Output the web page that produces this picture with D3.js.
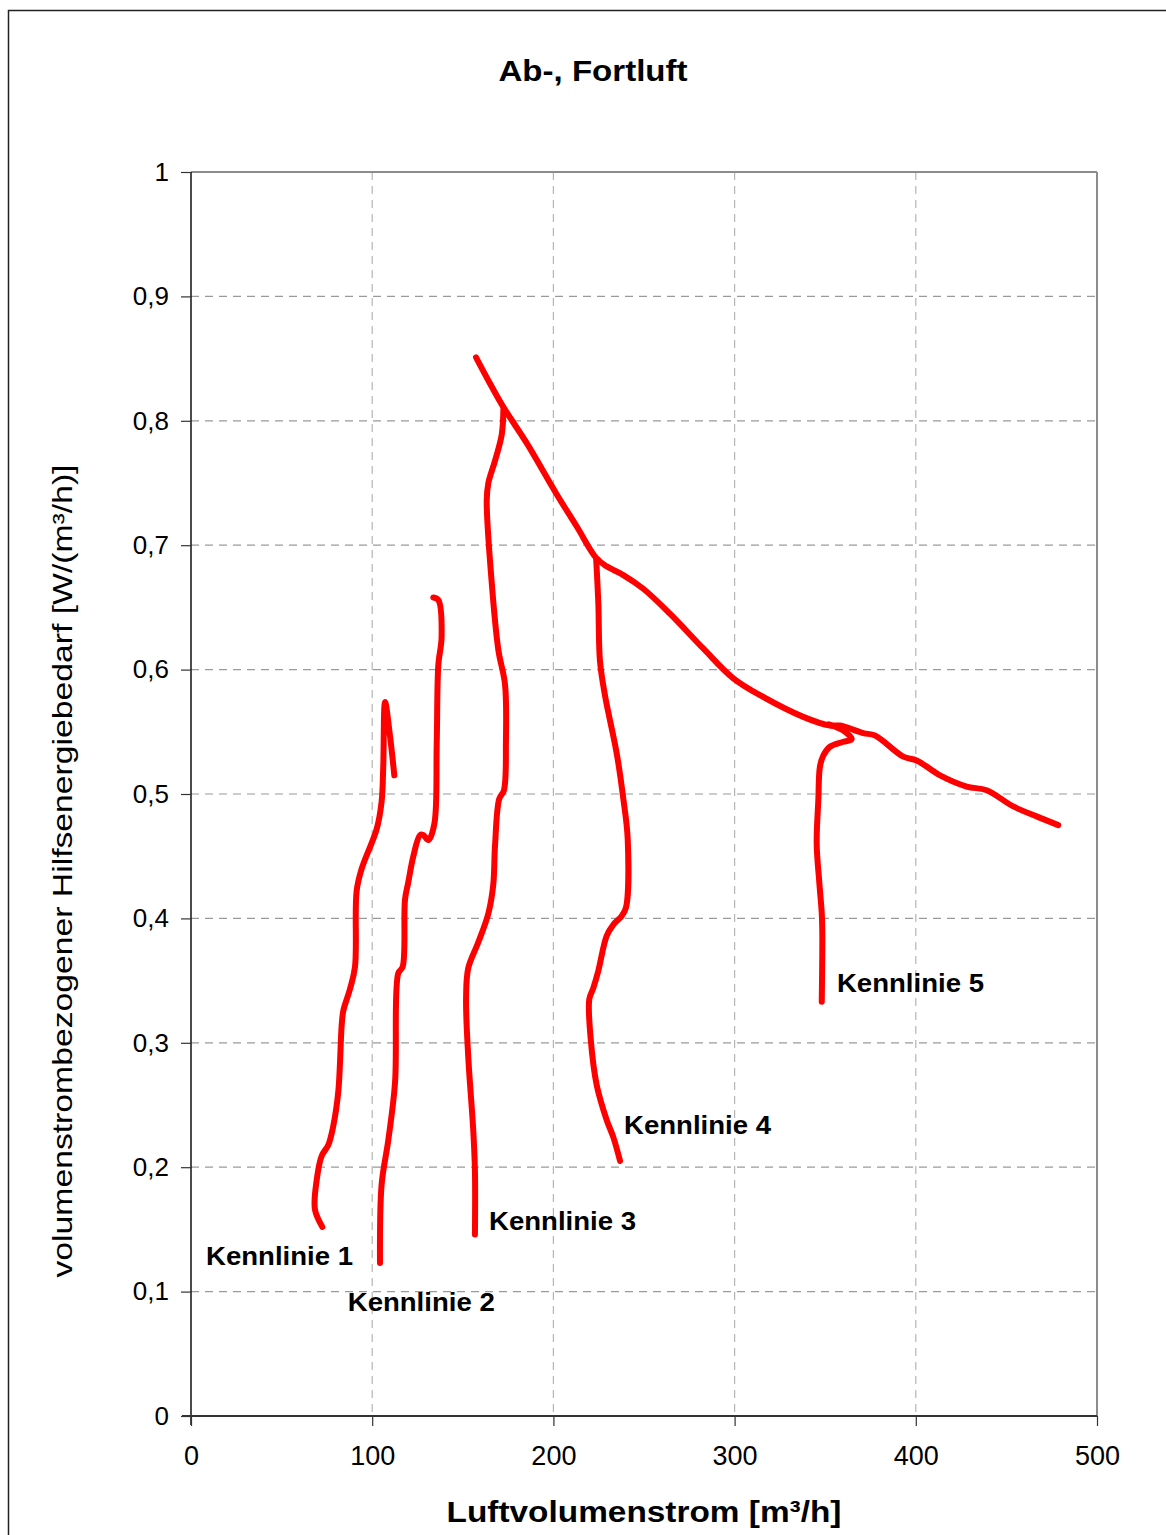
<!DOCTYPE html>
<html><head><meta charset="utf-8">
<script src="https://cdn.jsdelivr.net/npm/d3@7"></script>
<style>body{margin:0;background:#fff}svg{display:block}text{font-family:"Liberation Sans",Arial,sans-serif}</style>
</head><body>
<svg id="c" width="1166" height="1535"></svg>
<script>
const title = "Ab-, Fortluft";
const xTitle = "Luftvolumenstrom [m³/h]";
const yTitle = "volumenstrombezogener Hilfsenergiebedarf [W/(m³/h)]";
const xTicks = [0,100,200,300,400,500];
const yTicks = [0,0.1,0.2,0.3,0.4,0.5,0.6,0.7,0.8,0.9,1];
const yTickLabels = ["0","0,1","0,2","0,3","0,4","0,5","0,6","0,7","0,8","0,9","1"];

const k1x = [72.5,68.4,69.4,72.1,75.8,78.5,81.3,83.2,84.1,87.7,90.5,91.4,94.2,102.5,105.2,106.1,107.1,109.8,112.2];
const k1y = [0.152,0.166,0.190,0.209,0.218,0.233,0.261,0.315,0.326,0.343,0.361,0.422,0.440,0.472,0.494,0.522,0.574,0.547,0.515];
const k2x = [104.3,105.2,108.9,112.6,114.4,116.8,118.1,119.9,122.7,126.4,128.2,131.0,134.3,135.6,136.5,138.3,136.5,133.7];
const k2y = [0.123,0.186,0.222,0.268,0.356,0.361,0.415,0.429,0.450,0.467,0.467,0.463,0.476,0.540,0.604,0.626,0.656,0.658];
const k3x = [156.7,156.7,155.8,153.0,151.8,153.0,158.6,164.1,166.8,167.8,170.1,172.7,173.8,173.3,169.6,165.9,163.2,164.1,167.8,171.5,172.4];
const k3y = [0.146,0.197,0.229,0.289,0.335,0.360,0.381,0.404,0.427,0.459,0.496,0.503,0.542,0.588,0.616,0.671,0.736,0.750,0.768,0.789,0.809];
const k4x = [236.8,233.1,229.4,223.9,220.6,219.8,222.0,224.8,229.4,233.1,237.7,240.1,241.0,238.6,234.9,228.5,225.7,224.8,223.6];
const k4y = [0.205,0.224,0.238,0.266,0.303,0.335,0.344,0.358,0.386,0.395,0.402,0.409,0.464,0.496,0.533,0.579,0.607,0.653,0.689];
const k5x = [348.1,348.4,348.1,346.8,345.3,346.2,347.1,349.0,352.6,360.0,364.6,360.0,352.0];
const k5y = [0.333,0.388,0.404,0.428,0.460,0.495,0.522,0.531,0.538,0.542,0.544,0.551,0.556];
const envX = [157.3,165.0,172.4,185.3,201.8,212.9,223.5,229.4,238.6,249.6,264.3,282.7,299.3,315.8,337.9,352.6,358.2,371.0,377.5,393.1,400.5,413.4,428.1,439.1,453.8,466.7,478.6];
const envY = [0.851,0.830,0.811,0.782,0.741,0.715,0.690,0.683,0.676,0.665,0.645,0.617,0.593,0.578,0.562,0.555,0.555,0.549,0.547,0.530,0.527,0.515,0.506,0.503,0.490,0.482,0.475];

const labelNames = ["Kennlinie 1","Kennlinie 2","Kennlinie 3","Kennlinie 4","Kennlinie 5"];
const labelX = [8.3,86.5,164.5,239.0,356.5];
const labelY = [0.1214,0.0843,0.1495,0.2267,0.3408];

const svg = d3.select("#c");
const L=191,R=1097,T=172,B=1416;
const x = d3.scaleLinear().domain([0,500]).range([L,R]);
const y = d3.scaleLinear().domain([0,1]).range([B,T]);

// outer frame
svg.append("rect").attr("x",8.5).attr("y",10.5).attr("width",1170).attr("height",1540)
  .attr("fill","none").attr("stroke","#222").attr("stroke-width",1.5);

// grid
const g = svg.append("g");
g.selectAll(".hg").data(yTicks.filter(d=>d>0&&d<1)).join("line")
  .attr("x1",L).attr("x2",R).attr("y1",d=>y(d)).attr("y2",d=>y(d))
  .attr("stroke","#9a9a9a").attr("stroke-width",1.2).attr("stroke-dasharray","8,6");
g.selectAll(".vg").data(xTicks.filter(d=>d>0&&d<500)).join("line")
  .attr("y1",T).attr("y2",B).attr("x1",d=>x(d)).attr("x2",d=>x(d))
  .attr("stroke","#b5b5b5").attr("stroke-width",1.2).attr("stroke-dasharray","8,6");

// plot border top/right
svg.append("line").attr("x1",L).attr("x2",R).attr("y1",T).attr("y2",T).attr("stroke","#8c8c8c").attr("stroke-width",2);
svg.append("line").attr("x1",R).attr("x2",R).attr("y1",T).attr("y2",B).attr("stroke","#8c8c8c").attr("stroke-width",2);

// axes
const yAxis = d3.axisLeft(y).tickValues(yTicks).tickFormat((d,i)=>yTickLabels[i]).tickSize(10).tickPadding(12);
const ya = svg.append("g").attr("transform",`translate(${L},0)`).call(yAxis);
ya.select(".domain").attr("stroke","#111").attr("stroke-width",1.5).attr("d",`M0,${T}V${B+9}`);
ya.selectAll(".tick line").attr("stroke","#333").attr("stroke-width",1.2);
ya.selectAll(".tick text").attr("font-size",26).attr("fill","#000").attr("font-family","Liberation Sans, Arial, sans-serif");

const xAxis = d3.axisBottom(x).tickValues(xTicks).tickSize(10).tickPadding(20);
const xa = svg.append("g").attr("transform",`translate(0,${B})`).call(xAxis);
xa.select(".domain").attr("stroke","#333").attr("stroke-width",2).attr("d",`M${L-9},0H${R}`);
xa.selectAll(".tick line").attr("stroke","#333").attr("stroke-width",1.2);
xa.selectAll(".tick text").attr("font-size",27).attr("fill","#000").attr("font-family","Liberation Sans, Arial, sans-serif");

// lines
const line = d3.line().x(d=>x(d[0])).y(d=>y(d[1])).curve(d3.curveCatmullRom.alpha(0.5));
const series = [[envX,envY],[k1x,k1y],[k2x,k2y],[k3x,k3y],[k4x,k4y],[k5x,k5y]];
svg.append("g").selectAll("path").data(series).join("path")
  .attr("d",s=>line(s[0].map((v,i)=>[v,s[1][i]])))
  .attr("fill","none").attr("stroke","#ff0000").attr("stroke-width",6)
  .attr("stroke-linecap","round").attr("stroke-linejoin","round");

// labels
svg.append("g").selectAll("text").data(labelNames).join("text")
  .attr("x",(d,i)=>x(labelX[i])).attr("y",(d,i)=>y(labelY[i]))
  .attr("font-size",25).attr("font-weight","bold").attr("fill","#000")
  .attr("textLength",147).attr("lengthAdjust","spacingAndGlyphs").text(d=>d);

// titles
svg.append("text").attr("x",593).attr("y",81).attr("text-anchor","middle")
  .attr("font-size",30).attr("font-weight","bold").attr("textLength",189).attr("lengthAdjust","spacingAndGlyphs").text(title);
svg.append("text").attr("x",644).attr("y",1522).attr("text-anchor","middle")
  .attr("font-size",30).attr("font-weight","bold").attr("textLength",395).attr("lengthAdjust","spacingAndGlyphs").text(xTitle);
svg.append("text").attr("transform","translate(72,871) rotate(-90)").attr("text-anchor","middle")
  .attr("font-size",28).attr("textLength",813).attr("lengthAdjust","spacingAndGlyphs").text(yTitle);
</script>
</body></html>
